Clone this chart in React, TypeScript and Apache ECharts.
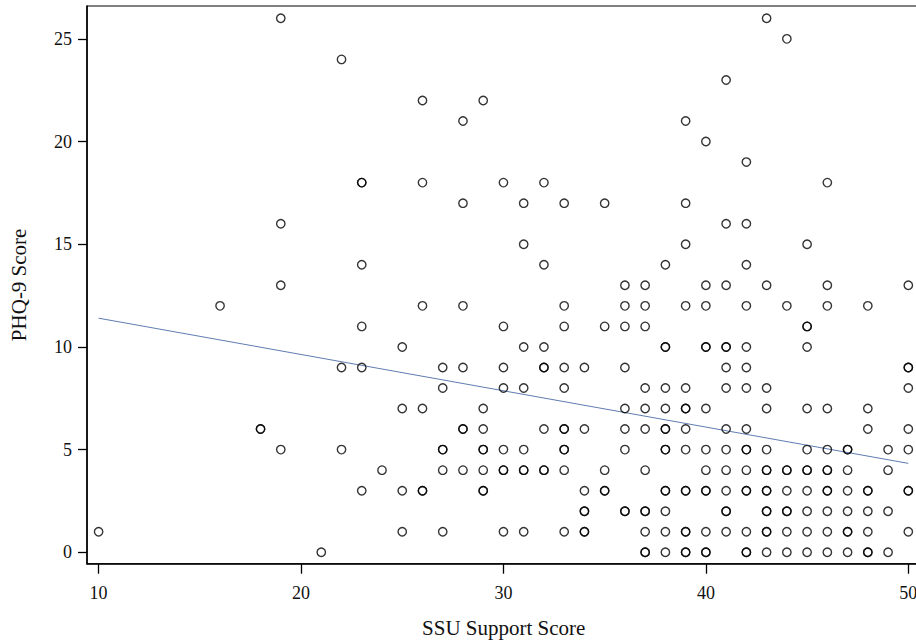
import React, { useEffect, useRef } from "react";
import * as echarts from "echarts";

// SSU Support Score columns and the PHQ-9 scores observed at each (repeats = overlapping markers)
const supportScores = [10, 16, 18, 19, 21, 22, 23, 24, 25, 26, 27, 28, 29, 30, 31, 32, 33, 34, 35, 36, 37, 38, 39, 40, 41, 42, 43, 44, 45, 46, 47, 48, 49, 50];
const phqScores: number[][] = [
  [1],
  [12],
  [6, 6],
  [26, 16, 13, 5],
  [0],
  [24, 9, 5],
  [18, 18, 14, 11, 9, 3],
  [4],
  [10, 7, 3, 1],
  [22, 18, 12, 7, 3, 3],
  [9, 8, 5, 5, 4, 1],
  [21, 17, 12, 9, 6, 6, 4],
  [22, 7, 6, 5, 5, 4, 3, 3],
  [18, 11, 9, 8, 5, 4, 4, 1],
  [17, 15, 10, 8, 5, 4, 4, 1],
  [18, 14, 10, 9, 9, 6, 4, 4],
  [17, 12, 11, 9, 8, 6, 6, 5, 5, 4, 1],
  [9, 6, 3, 2, 2, 1, 1],
  [17, 11, 4, 3, 3],
  [13, 12, 11, 9, 7, 6, 5, 2, 2],
  [13, 12, 11, 8, 7, 6, 4, 2, 2, 1, 0, 0],
  [14, 10, 10, 8, 7, 6, 6, 5, 5, 3, 3, 2, 1, 0],
  [21, 17, 15, 12, 8, 7, 7, 6, 5, 3, 3, 1, 1, 0, 0],
  [20, 13, 12, 10, 10, 7, 5, 4, 3, 3, 1, 0, 0],
  [23, 16, 13, 10, 10, 9, 8, 6, 5, 4, 3, 2, 2, 1],
  [19, 16, 14, 12, 10, 9, 8, 6, 5, 5, 4, 3, 3, 1, 0, 0],
  [26, 13, 8, 7, 5, 4, 4, 3, 3, 2, 2, 1, 1, 0],
  [25, 12, 4, 4, 3, 2, 2, 1, 0],
  [15, 11, 11, 10, 7, 5, 4, 4, 3, 2, 1, 0],
  [18, 13, 12, 7, 5, 4, 4, 3, 3, 2, 1, 0],
  [5, 5, 4, 3, 2, 1, 1, 0],
  [12, 7, 6, 3, 3, 2, 1, 0, 0],
  [5, 4, 2, 0],
  [13, 9, 9, 8, 6, 5, 3, 3, 1],
];

// Fitted line end points
const fitX = [10, 50];
const fitY = [11.4, 4.33];

const xTicks = [10, 20, 30, 40, 50];
const yTicks = [0, 5, 10, 15, 20, 25];

const X_MIN = 9.427;
const X_MAX = 50.6;
const Y_MIN = -0.555;
const Y_MAX = 26.6;

export default function App() {
  const ref = useRef<HTMLDivElement>(null);

  useEffect(() => {
    if (!ref.current) return;
    const chart = echarts.init(ref.current, undefined, { renderer: "svg" });

    const points: number[][] = [];
    supportScores.forEach((x, i) => {
      phqScores[i].forEach((y) => points.push([x, y]));
    });
    const fitLine = fitX.map((x, i) => [x, fitY[i]]);

    const font = "Liberation Serif";
    const pxPerX = 20.25;
    const gridLeft = 86.7;
    const gridWidth = (X_MAX - X_MIN) * pxPerX;

    chart.setOption({
      animation: false,
      backgroundColor: "#ffffff",
      grid: {
        left: gridLeft,
        top: 6,
        width: gridWidth,
        height: 557.7,
        show: true,
        borderColor: "#000",
        borderWidth: 1,
        backgroundColor: "transparent",
      },
      xAxis: {
        type: "value",
        min: X_MIN,
        max: X_MAX,
        name: "SSU Support Score",
        nameLocation: "middle",
        nameGap: 54,
        nameTextStyle: { fontFamily: font, fontSize: 21, color: "#111" },
        axisLine: { show: true, onZero: false, lineStyle: { color: "#000", width: 1.6 } },
        axisTick: { show: true, inside: false, length: 10, customValues: xTicks, lineStyle: { color: "#000", width: 1.3 } },
        axisLabel: { customValues: xTicks, margin: 20, fontFamily: font, fontSize: 18, color: "#111" },
        splitLine: { show: false },
      },
      yAxis: {
        type: "value",
        min: Y_MIN,
        max: Y_MAX,
        name: "PHQ-9 Score",
        nameLocation: "middle",
        nameGap: 58,
        nameTextStyle: { fontFamily: font, fontSize: 21, color: "#111" },
        axisLine: { show: true, onZero: false, lineStyle: { color: "#000", width: 1.6 } },
        axisTick: { show: true, inside: false, length: 9, customValues: yTicks, lineStyle: { color: "#000", width: 1.3 } },
        axisLabel: { customValues: yTicks, margin: 15, fontFamily: font, fontSize: 18, color: "#111" },
        splitLine: { show: false },
      },
      series: [
        {
          type: "line",
          data: fitLine,
          symbol: "none",
          lineStyle: { color: "#5f7db2", width: 1 },
          silent: true,
          z: 1,
        },
        {
          type: "scatter",
          data: points,
          symbol: "circle",
          symbolSize: 8.4,
          itemStyle: { color: "transparent", borderColor: "#000", borderWidth: 1.4 },
          silent: true,
          z: 2,
        },
      ],
    });

    return () => chart.dispose();
  }, []);

  return (
    <div style={{ position: "fixed", left: 0, top: 0, width: 916, height: 644, overflow: "hidden", background: "#fff" }}>
      <div ref={ref} style={{ width: 930, height: 644 }} />
    </div>
  );
}
